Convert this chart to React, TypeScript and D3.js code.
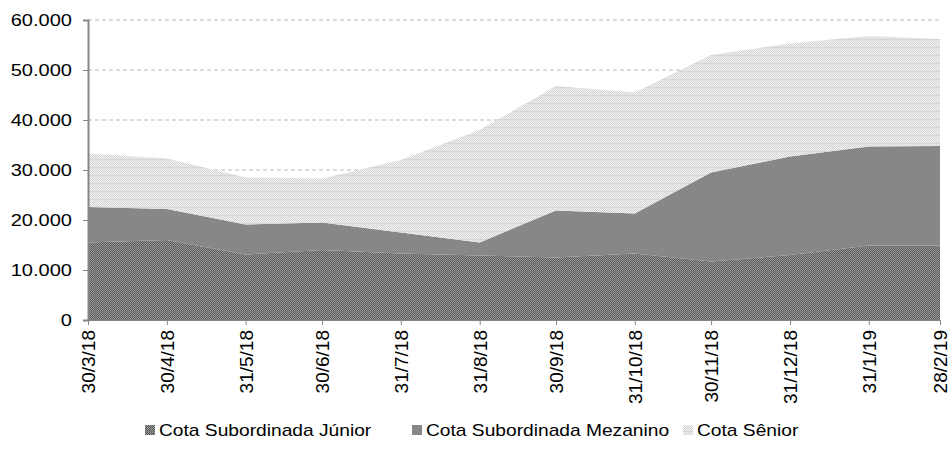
import React, { useEffect, useRef } from 'react';
import * as d3 from 'd3';

const dates = ['2018-03-30', '2018-04-30', '2018-05-31', '2018-06-30', '2018-07-31', '2018-08-31',
  '2018-09-30', '2018-10-31', '2018-11-30', '2018-12-31', '2019-01-31', '2019-02-28'];
const tickLabels = ['30/3/18', '30/4/18', '31/5/18', '30/6/18', '31/7/18', '31/8/18',
  '30/9/18', '31/10/18', '30/11/18', '31/12/18', '31/1/19', '28/2/19'];
const junior = [15500, 16000, 13100, 14000, 13300, 12900, 12500, 13300, 11700, 13000, 14900, 14900];
const mezanino = [7100, 6200, 6000, 5500, 4200, 2600, 9400, 8000, 17800, 19700, 19800, 19900];
const senior = [10700, 10100, 9400, 8800, 14500, 22500, 24900, 24200, 23500, 22600, 22100, 21400];
const seriesNames = ['Cota Subordinada Júnior', 'Cota Subordinada Mezanino', 'Cota Sênior'];
const yTicks = [0, 10000, 20000, 30000, 40000, 50000, 60000];

const FONT = 'Liberation Sans, Arial, sans-serif';

const App = () => {
  const ref = useRef<SVGSVGElement>(null);

  useEffect(() => {
    const svg = d3.select(ref.current);
    svg.selectAll('*').remove();

    const left = 88, right = 940, top = 20, bottom = 320;
    const parse = d3.timeParse('%Y-%m-%d');
    const rows = dates.map((d, i) => ({ date: parse(d) as Date, junior: junior[i], mezanino: mezanino[i], senior: senior[i] }));

    const x = d3.scaleTime().domain(d3.extent(rows, d => d.date) as [Date, Date]).range([left, right]);
    const y = d3.scaleLinear().domain([0, 60000]).range([bottom, top]);

    // patterns
    const defs = svg.append('defs');
    const mkPattern = (id, a, b, line) => {
      const p = defs.append('pattern').attr('id', id).attr('patternUnits', 'userSpaceOnUse')
        .attr('width', 8).attr('height', 8);
      p.append('rect').attr('width', 8).attr('height', 8).attr('fill', a);
      for (let r = 0; r < 7; r++) {
        for (let c = 0; c < 8; c++) {
          if ((r + c) % 2 === 0) p.append('rect').attr('x', c).attr('y', r).attr('width', 1).attr('height', 1).attr('fill', b);
        }
      }
      p.append('rect').attr('x', 0).attr('y', 7).attr('width', 8).attr('height', 1).attr('fill', line);
    };
    mkPattern('pJunior', '#595959', '#999999', '#7a7a7a');
    mkPattern('pSenior', '#f4f4f4', '#d2d2d2', '#d6d6d6');
    const fills = ['url(#pJunior)', '#878787', 'url(#pSenior)'];

    // gridlines
    svg.append('g').selectAll('line').data(yTicks.filter(t => t > 0)).join('line')
      .attr('x1', left).attr('x2', right)
      .attr('y1', d => y(d)).attr('y2', d => y(d))
      .attr('stroke', '#b8b8b8').attr('stroke-dasharray', '4,3').attr('stroke-width', 1);

    const stack = d3.stack().keys(['junior', 'mezanino', 'senior']);
    const layers = stack(rows as any);
    const area = d3.area<any>()
      .x(d => x(d.data.date))
      .y0(d => y(d[0]))
      .y1(d => y(d[1]));

    svg.append('g').selectAll('path').data(layers).join('path')
      .attr('d', area)
      .attr('fill', (d, i) => fills[i]);

    // axes
    const sx = 1.18;
    const yAxis = svg.append('g').attr('transform', `translate(${left},0)`)
      .call(d3.axisLeft(y).tickValues(yTicks).tickSize(5)
        .tickFormat(d => d3.format(',')(d as number).replace(/,/g, '.')));
    yAxis.select('.domain').attr('stroke', '#868686').attr('stroke-width', 2);
    yAxis.selectAll('.tick line').attr('stroke', '#868686');
    yAxis.selectAll('text').attr('font-family', FONT).attr('font-size', 17).attr('fill', '#000')
      .attr('x', -16 / sx).attr('transform', `scale(${sx},1)`);

    const xAxis = svg.append('g').attr('transform', `translate(0,${bottom})`)
      .call(d3.axisBottom(x).tickValues(rows.map(r => r.date)).tickSize(5)
        .tickFormat((d, i) => tickLabels[i]));
    xAxis.select('.domain').attr('stroke', '#868686').attr('stroke-width', 1);
    xAxis.selectAll('.tick line').attr('stroke', '#868686');
    xAxis.selectAll('text')
      .attr('font-family', FONT).attr('font-size', 19).attr('fill', '#000')
      .attr('text-anchor', 'end').attr('transform', 'rotate(-90)')
      .attr('x', -10).attr('y', 0).attr('dy', '0.35em');

    // legend
    const legendX = [145, 412, 683];
    const lg = svg.append('g');
    seriesNames.forEach((name, i) => {
      lg.append('rect').attr('x', legendX[i]).attr('y', 425).attr('width', 10).attr('height', 10).attr('fill', fills[i]);
      lg.append('text').attr('transform', `translate(${legendX[i] + 14},436) scale(1.2,1)`)
        .attr('font-family', FONT).attr('font-size', 16)
        .attr('fill', '#000').text(name);
    });
  }, []);

  return (
    <svg ref={ref} width={951} height={451}
      style={{ position: 'absolute', left: 0, top: 0, background: '#fff' }} />
  );
};

export default App;
